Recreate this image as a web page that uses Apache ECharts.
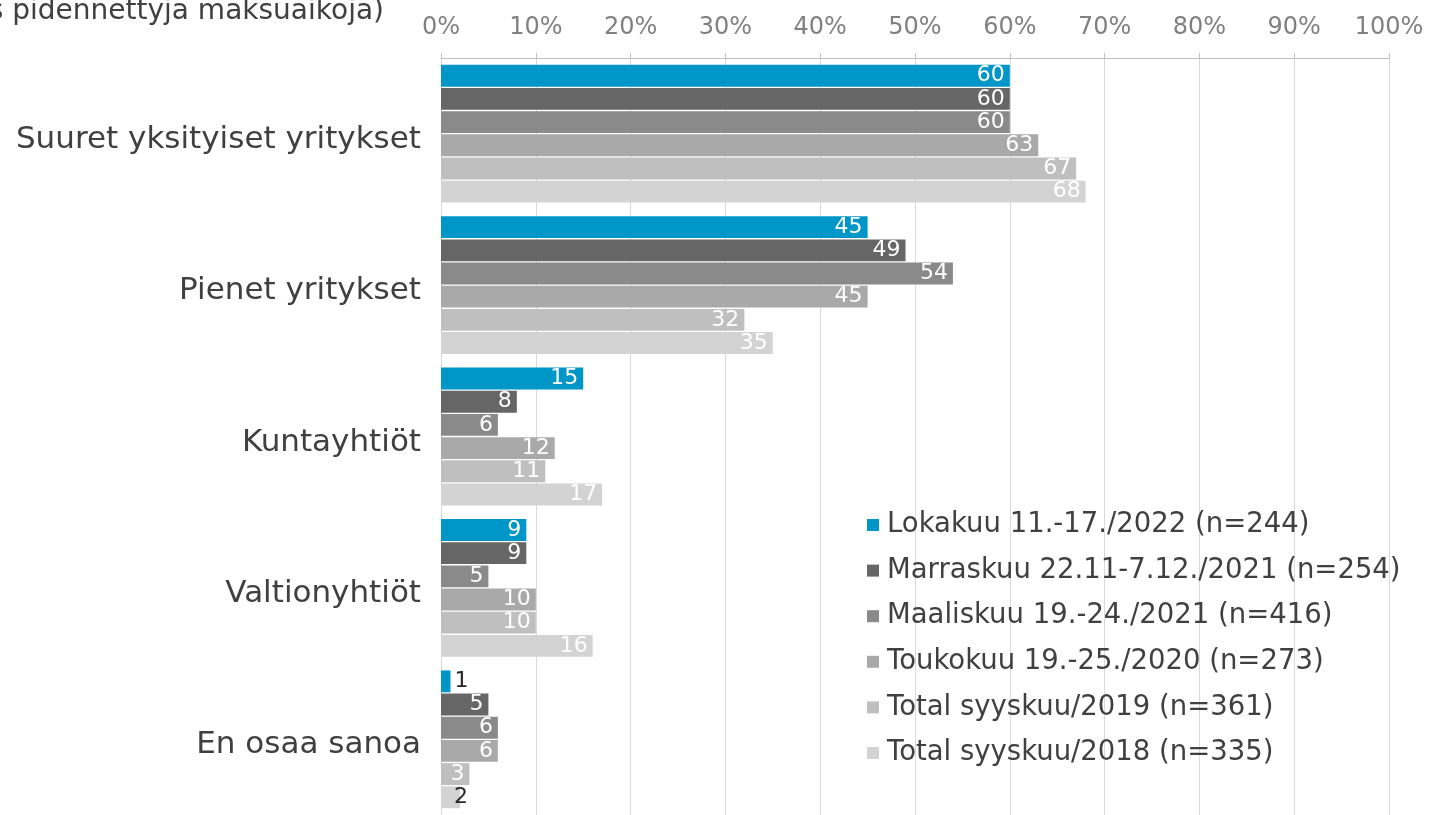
<!DOCTYPE html>
<html>
<head>
<meta charset="utf-8">
<script src="https://cdn.jsdelivr.net/npm/echarts@6/dist/echarts.min.js"></script>
<style>
  html, body { margin: 0; padding: 0; background: #fff; }
  #chart { width: 1430px; height: 815px; }
</style>
</head>
<body>
<div id="chart"></div>
<script>
  // kategoriat ylhäältä alas
  const categories = ['Suuret yksityiset yritykset', 'Pienet yritykset', 'Kuntayhtiöt', 'Valtionyhtiöt', 'En osaa sanoa']
  const seriesNames = [
    'Lokakuu 11.-17./2022 (n=244)',
    'Marraskuu 22.11-7.12./2021 (n=254)',
    'Maaliskuu 19.-24./2021 (n=416)',
    'Toukokuu 19.-25./2020 (n=273)',
    'Total syyskuu/2019 (n=361)',
    'Total syyskuu/2018 (n=335)'
  ]
  const lokakuu2022 = [60, 45, 15, 9, 1]
  const marraskuu2021 = [60, 49, 8, 9, 5]
  const maaliskuu2021 = [60, 54, 6, 5, 6]
  const toukokuu2020 = [63, 45, 12, 10, 6]
  const syyskuu2019 = [67, 32, 11, 10, 3]
  const syyskuu2018 = [68, 35, 17, 16, 2]
  const xTicks = [0, 10, 20, 30, 40, 50, 60, 70, 80, 90, 100]

  const colors = ['#0096C8', '#666666', '#8A8A8A', '#A9A9A9', '#BFBFBF', '#D3D3D3']
  const allData = [lokakuu2022, marraskuu2021, maaliskuu2021, toukokuu2020, syyskuu2019, syyskuu2018]
  const font = '"DejaVu Sans", Verdana, sans-serif'

  let myChart = echarts.init(document.getElementById('chart'))

  let series = allData.map((arr, i) => ({
    name: seriesNames[i],
    type: 'bar',
    barGap: '6%',
    barCategoryGap: '9%',
    itemStyle: { color: colors[i] },
    label: {
      show: true,
      position: 'insideRight',
      distance: 5,
      color: '#fff',
      fontFamily: font,
      fontSize: 22
    },
    data: arr.map(v => {
      // pienet arvot: tumma teksti palkin ulkopuolella
      if (v <= 2) {
        return { value: v, label: { position: 'right', distance: v === 1 ? 4 : -6, color: '#262626' } }
      }
      return v
    })
  }))

  let option = {
    animation: false,
    textStyle: { fontFamily: font },
    grid: { left: 441, right: 41, top: 58, height: 761 },
    legend: {
      orient: 'vertical',
      left: 862,
      top: 506,
      itemWidth: 12,
      itemHeight: 12,
      itemGap: 17.6,
      icon: 'rect',
      textStyle: { fontFamily: font, fontSize: 27.5, color: '#404040', padding: [0, 0, 0, 3] },
      data: seriesNames
    },
    xAxis: {
      type: 'value',
      position: 'top',
      min: xTicks[0],
      max: xTicks[xTicks.length - 1],
      interval: 10,
      axisLine: { show: true, lineStyle: { color: '#BFBFBF' } },
      axisTick: { show: true, length: 5, lineStyle: { color: '#BFBFBF' } },
      splitLine: { show: true, lineStyle: { color: '#D9D9D9' } },
      axisLabel: {
        margin: 18,
        fontFamily: font,
        fontSize: 24,
        color: '#808080',
        formatter: v => v + '%'
      }
    },
    yAxis: {
      type: 'category',
      inverse: true,
      data: categories,
      axisLine: { show: true, lineStyle: { color: '#D9D9D9' } },
      axisTick: { show: false },
      axisLabel: {
        margin: 20,
        formatter: v => '{c|' + v + '}',
        rich: {
          c: { fontFamily: font, fontSize: 31, color: '#404040', padding: [12, 0, 0, 0] }
        }
      }
    },
    graphic: [{
      type: 'text',
      right: 1430 - 384,
      top: -2,
      style: {
        text: 's pidennettyjä maksuaikoja)',
        font: '28px ' + font,
        fill: '#404040'
      }
    }],
    series: series
  }

  myChart.setOption(option)
  window.addEventListener('resize', myChart.resize)
</script>
</body>
</html>
